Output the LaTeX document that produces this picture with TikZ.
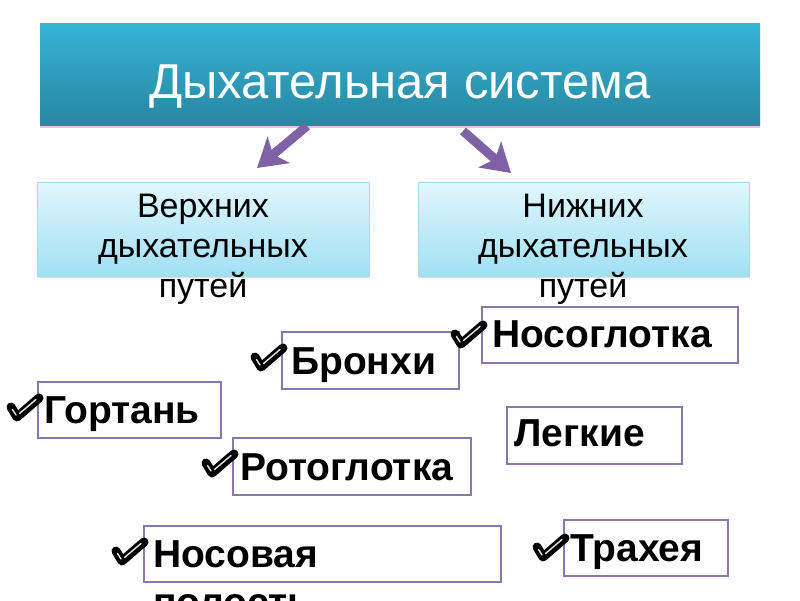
\documentclass[tikz,border=0pt]{standalone}
\usepackage{fontspec}
\setmainfont{Liberation Sans}
\usetikzlibrary{arrows.meta,shadows}
\definecolor{titletop}{HTML}{35B4D6}
\definecolor{titlebot}{HTML}{2986A0}
\definecolor{subtop}{HTML}{E2F6FC}
\definecolor{subbot}{HTML}{A0E0F4}
\definecolor{subedge}{HTML}{A6DCEE}
\definecolor{boxedge}{HTML}{8C77AD}
\definecolor{arrowc}{HTML}{7F62A6}
\begin{document}
\begin{tikzpicture}[x=1pt,y=-1pt,
  titlebox/.style={anchor=north west, inner sep=0pt, top color=titletop, bottom color=titlebot,
    draw=none, drop shadow={shadow xshift=0pt, shadow yshift=-3pt, opacity=0.35}},
  subbox/.style={anchor=north west, inner sep=0pt, top color=subtop, bottom color=subbot,
    draw=subedge, line width=0.8pt, drop shadow={shadow xshift=1pt, shadow yshift=-2pt, opacity=0.25}},
  subtext/.style={anchor=north, inner sep=0pt, align=center, font=\fontsize{34}{40}\selectfont},
  itembox/.style={anchor=north west, inner sep=0pt, draw=boxedge, line width=1.5pt, fill=white},
  itemtext/.style={anchor=base west, inner sep=0pt, font=\fontsize{39}{48}\selectfont\bfseries},
  bigarrow/.style={draw=arrowc, line width=9pt, -{Stealth[width=34pt,length=28pt,inset=7pt]}},
  chk/.pic={
    \draw[line width=9pt, line cap=round, line join=round, black] (-6,-10) -- (0,0) -- (22,-19);
    \draw[line width=1.4pt, line cap=round, white!80!gray] (-4.5,-7.5) -- (-1,-2) (2.5,-3.5) -- (19,-17.5);
  }]
\useasboundingbox (0,0) rectangle (800,600);
\fill[white] (0,0) rectangle (800,600);

% title
\node[titlebox, minimum width=720pt, minimum height=102pt] (title) at (40,23) {};
\node[anchor=base, inner sep=0pt, text=white, font=\fontsize{49}{56}\selectfont] (titletext) at (400,98) {Дыхательная система};

% arrows
\coordinate (la1) at (307,126);
\coordinate (la2) at (257,168);
\coordinate (ra1) at (463,131);
\coordinate (ra2) at (511,173);
\draw[bigarrow] (la1) -- (la2);
\draw[bigarrow] (ra1) -- (ra2);

% sub boxes
\node[subbox, minimum width=332pt, minimum height=94pt] (upper) at (37,182) {};
\node[subbox, minimum width=331pt, minimum height=94pt] (lower) at (418,182) {};
\node[subtext] (uppertext) at (203,194) {Верхних\\дыхательных\\путей};
\node[subtext] (lowertext) at (583,194) {Нижних\\дыхательных\\путей};

% items
\node[itembox, minimum width=177pt, minimum height=57pt] (bronhi) at (281,331) {};
\node[itemtext] (bronhit) at (291,374) {Бронхи};
\pic at (261,367) {chk};

\node[itembox, minimum width=183pt, minimum height=56pt] (gortan) at (37,381) {};
\node[itemtext] (gortant) at (44,423) {Гортань};
\pic at (17,417) {chk};

\node[itembox, minimum width=238pt, minimum height=57pt] (roto) at (232,437) {};
\node[itemtext] (rotot) at (240,480) {Ротоглотка};
\pic at (212,473) {chk};

\node[itembox, minimum width=256pt, minimum height=56pt] (noso) at (481,306) {};
\node[itemtext] (nosot) at (492,347) {Носоглотка};
\pic at (461,344) {chk};

\node[itembox, minimum width=175pt, minimum height=57pt] (legkie) at (506,406) {};
\node[itemtext] (legkiet) at (514,446) {Легкие};

\node[itembox, minimum width=357pt, minimum height=56pt] (nosov) at (143,525) {};
\node[anchor=north west, inner sep=0pt, align=left, font=\fontsize{39}{48}\selectfont\bfseries] (nosovt) at (153,540) {Носовая\\полость};
\pic at (122,561) {chk};

\node[itembox, minimum width=164pt, minimum height=56pt] (trah) at (563,519) {};
\node[itemtext] (traht) at (570,561) {Трахея};
\pic at (543,557) {chk};
\end{tikzpicture}
\end{document}
